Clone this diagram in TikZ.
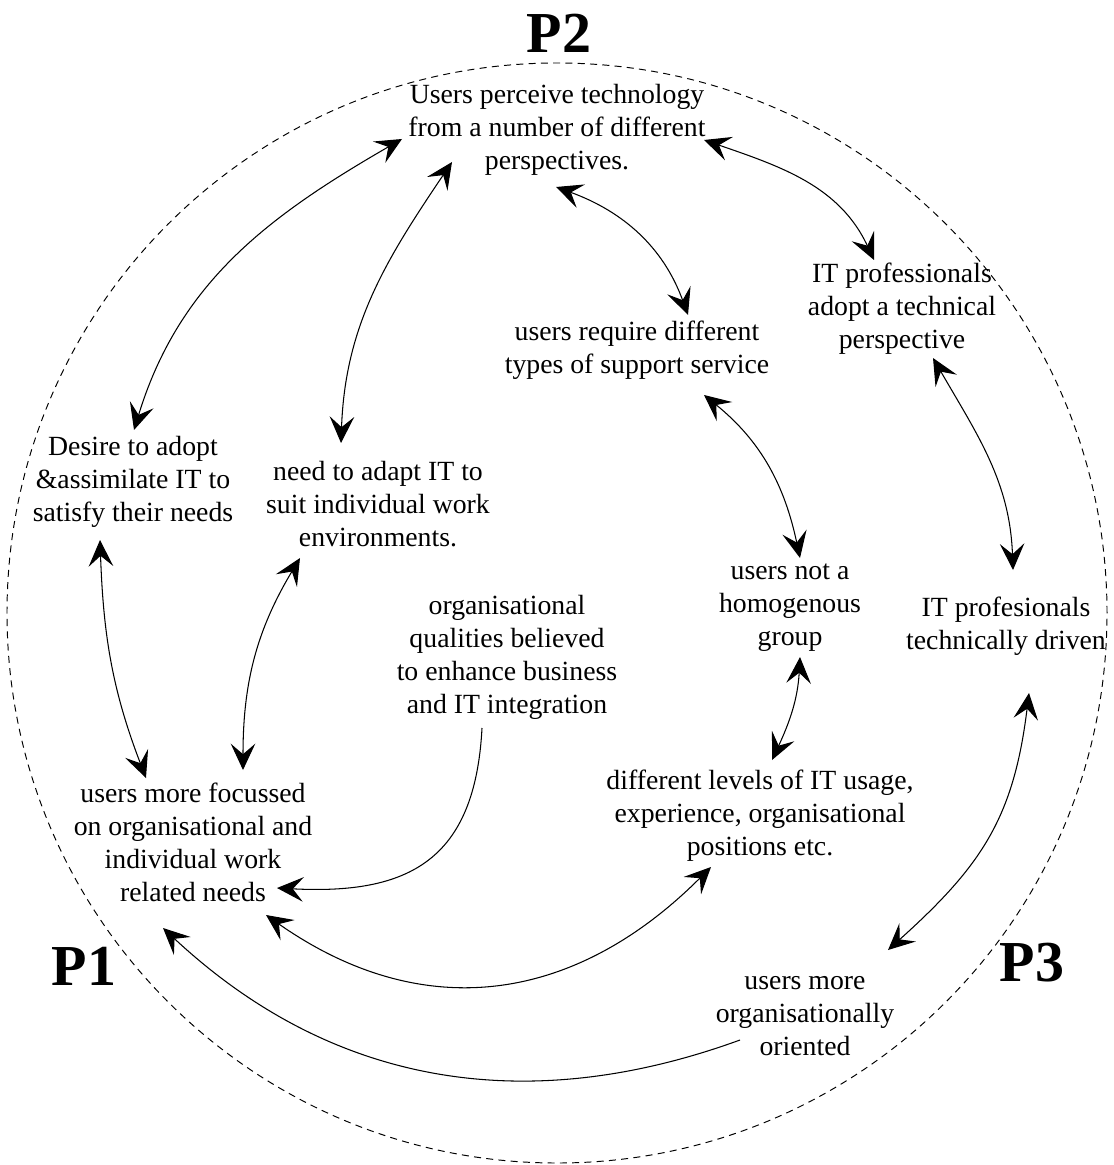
\documentclass[tikz,border=0pt]{standalone}
\usepackage{fontspec}
\setmainfont{Liberation Serif}
\usetikzlibrary{arrows.meta}

\tikzset{
  >={Stealth[length=15pt,width=14pt,inset=6pt]},
  twoway/.style={<->, line width=0.6pt},
  oneway/.style={->, line width=0.6pt},
  boundary/.style={dash pattern=on 4pt off 3pt, line width=0.55pt},
  plabel/.style={font=\fontsize{33}{36}\selectfont\bfseries}
}

\begin{document}
\begin{tikzpicture}[x=0.02cm, y=0.02cm,
    every node/.style={align=center, inner sep=0pt,
      font=\fontsize{15.8}{18.8}\selectfont}]
      \useasboundingbox (0,0) rectangle (1114,-1165);

      % outer dashed ring
      \draw[boundary] (557,-613) circle[radius=550];

      \node[plabel] (p2) at (559,-33) {P2};
      \node[plabel] (p1) at (84,-966) {P1};
      \node[plabel] (p3) at (1032,-963) {P3};

      \node (top) at (557,-130) {Users perceive technology\\from a number of different\\perspectives.};
      \node (desire) at (133,-482) {Desire to adopt\\\&assimilate IT to\\satisfy their needs};
      \node (need) at (378,-504) {need to adapt IT to\\suit individual work\\environments.};
      \node (support) at (637,-350) {users require different\\types of support service};
      \node (itpro) at (902,-309) {IT professionals\\adopt a technical\\perspective};
      \node (homo) at (790,-608) {users not a\\homogenous\\group};
      \node (driven) at (1006,-626) {IT profesionals\\technically driven};
      \node (qual) at (507,-657) {organisational\\qualities believed\\to enhance business\\and IT integration};
      \node (focus) at (193,-842) {users more focussed\\on organisational and\\individual work\\related needs};
      \node (levels) at (760,-816) {different levels of IT usage,\\experience, organisational\\positions etc.};
      \node (orgor) at (805,-1016) {users more\\organisationally\\oriented};

      % links out of the top node
      \draw[twoway] ([shift={(1,52)}]desire.center) to[out=73,in=210] ([shift={(-155,-9)}]top.center);
      \draw[twoway] ([shift={(-37,61)}]need.center) to[out=88,in=236] ([shift={(-105,-32)}]top.center);
      \draw[twoway] ([shift={(-1,-57)}]top.center) to[out=-20,in=110] ([shift={(51,35)}]support.center);
      \draw[twoway] ([shift={(147,-10)}]top.center) to[out=-19,in=115] ([shift={(-28,49)}]itpro.center);

      % middle ring
      \draw[twoway] ([shift={(67,-45)}]support.center) to[out=-39,in=102] ([shift={(10,50)}]homo.center);
      \draw[twoway] ([shift={(31,-49)}]itpro.center) to[out=-60,in=92] ([shift={(7,56)}]driven.center);
      \draw[twoway] ([shift={(-33,-58)}]desire.center) to[out=-88,in=111] ([shift={(-47,64)}]focus.center);
      \draw[twoway] ([shift={(-78,-54)}]need.center) to[out=-121,in=90] ([shift={(50,72)}]focus.center);
      \draw[twoway] ([shift={(10,-49)}]homo.center) to[out=-93,in=65] ([shift={(12,56)}]levels.center);
      \draw[twoway] ([shift={(23,-67)}]driven.center) to[out=-97,in=42,looseness=1.1] ([shift={(83,66)}]orgor.center);

      % lower links
      \draw[oneway] ([shift={(-25,-71)}]qual.center) to[out=-93,in=-3,looseness=1.3] ([shift={(84,-46)}]focus.center);
      \draw[twoway] ([shift={(73,-73)}]focus.center) to[out=-35,in=225,looseness=1.1] ([shift={(-49,-51)}]levels.center);
      \draw[oneway] ([shift={(-65,-24)}]orgor.center) to[out=200,in=-43] ([shift={(-30,-86)}]focus.center);
\end{tikzpicture}
\end{document}
